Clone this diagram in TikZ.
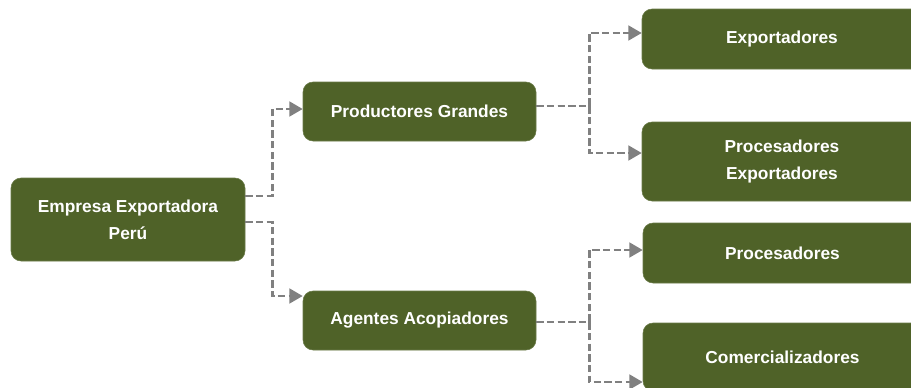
\documentclass[tikz,border=0pt]{standalone}
\usepackage{fontspec}
\setmainfont{Liberation Sans}
\usetikzlibrary{calc,arrows.meta}
\definecolor{boxgreen}{RGB}{79,98,40}
\definecolor{conngray}{RGB}{128,128,128}
\begin{document}
\begin{tikzpicture}[x=0.75pt,y=-0.75pt,
  gbox/.style={rectangle,rounded corners=7.5pt,fill=boxgreen,draw=boxgreen!85!white,line width=0.4pt,
    text=white,font=\fontsize{13}{20.5}\selectfont\bfseries,align=center,inner sep=0pt},
  conn/.style={draw=conngray,line width=2pt,dash pattern=on 5.5pt off 2.5pt,
    -{Triangle[length=10pt,width=11pt,fill=conngray]}}]
\useasboundingbox (0,0) rectangle (911,387);
\clip (0,0) rectangle (911,387);
\node[gbox,minimum width=175.5pt,minimum height=62.25pt] (E) at (128,219.5) {Empresa Exportadora\\Perú};
\node[gbox,minimum width=174.75pt,minimum height=44.25pt] (P) at (419.5,111.5) {Productores Grandes};
\node[gbox,minimum width=174.75pt,minimum height=44.25pt] (A) at (419.5,320.5) {Agentes Acopiadores};
\node[gbox,minimum width=210pt,minimum height=45pt] (X) at (782,39) {Exportadores};
\node[gbox,minimum width=210pt,minimum height=59.25pt] (PE) at (782,161.5) {Procesadores\\Exportadores};
\node[gbox,minimum width=209.25pt,minimum height=45pt] (PR) at (782.5,253) {Procesadores};
\node[gbox,minimum width=209.25pt,minimum height=51pt] (C) at (782.5,357) {Comercializadores};
\draw[conn] ($(E.east)+(0,-23.5)$) -- ++(27,0) |- ($(P.west)+(0,-2.5)$);
\draw[conn] ($(E.east)+(0,2.5)$) -- ++(27,0) |- ($(A.west)+(0,-24.5)$);
\draw[conn] ($(P.east)+(0,-5.5)$) -- ++(53,0) |- ($(X.west)+(0,-6)$);
\draw[conn] ($(P.east)+(0,-5.5)$) -- ++(53,0) |- ($(PE.west)+(0,-8.5)$);
\draw[conn] ($(A.east)+(0,1.5)$) -- ++(53,0) |- ($(PR.west)+(0,-3)$);
\draw[conn] ($(A.east)+(0,1.5)$) -- ++(53,0) |- ($(C.west)+(0,25)$);
\end{tikzpicture}
\end{document}
